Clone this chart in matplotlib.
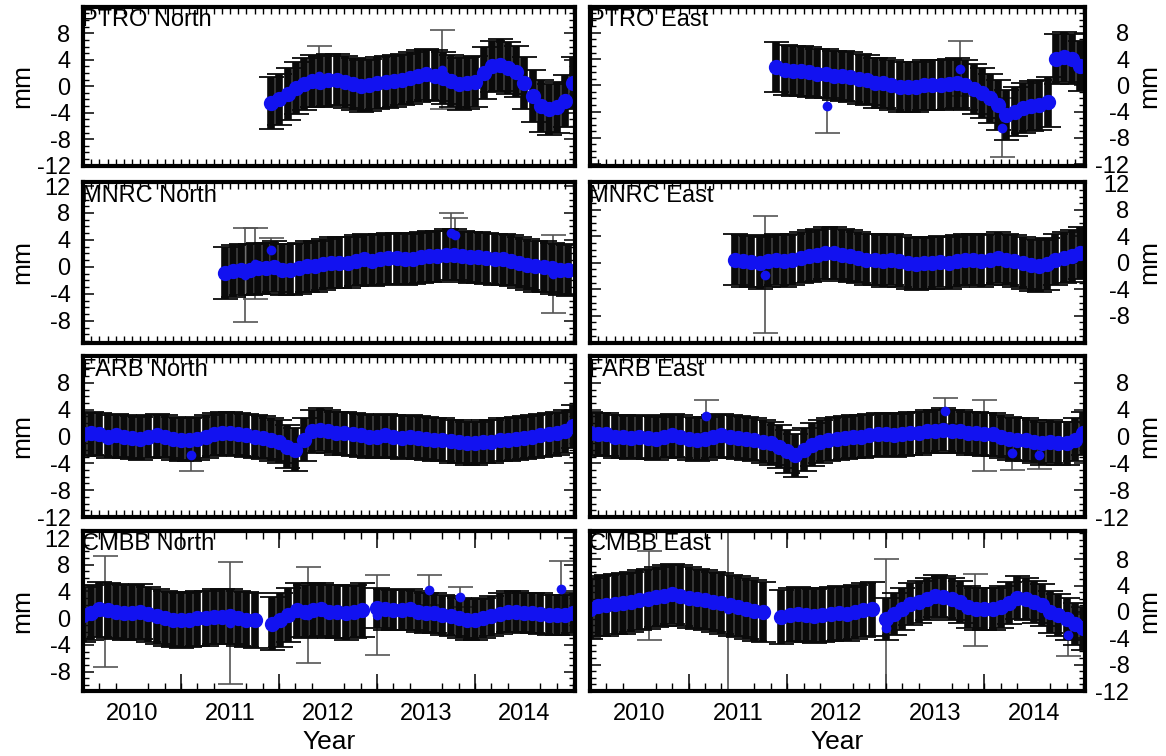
import numpy as np
import matplotlib
matplotlib.use('Agg')
import matplotlib.pyplot as plt
import matplotlib.transforms as mtransforms
from matplotlib.ticker import FixedLocator, MultipleLocator

plt.rcParams['font.family'] = ['Liberation Sans', 'DejaVu Sans']
plt.rcParams['axes.unicode_minus'] = False

# ---------------- data (monthly values, mm) ----------------
# PTRO North
ptro_n_start = 2011.42
ptro_n = [-2.5, -2.0, -1.2, -0.3, 0.3, 0.8, 0.7, 0.9, 1.0, 0.6, 0.3, 0.0, 0.2, 0.5,
          0.6, 0.8, 1.0, 1.2, 1.5, 1.8, 1.6, 1.2, 0.8, 0.3, 0.5, 0.7, 2.0, 3.0, 3.2,
          2.8, 2.2, 0.5, -1.5, -3.0, -3.5, -3.2, -2.2, 0.5]
ptro_n_sig = 3.9
ptro_n_out_x = [2011.91, 2013.16]
ptro_n_out_y = [1.5, 2.5]
ptro_n_out_e = [4.6, 6.0]

# PTRO East
ptro_e_start = 2011.39
ptro_e = [2.8, 2.4, 2.2, 2.2, 2.0, 1.8, 1.8, 1.5, 1.4, 1.3, 1.0, 0.8, 0.4, 0.3, 0.0,
          -0.2, -0.3, -0.2, 0.0, 0.0, 0.1, 0.2, 0.3, 0.0, -0.6, -1.2, -2.0, -3.0,
          -4.5, -4.0, -3.5, -3.2, -3.0, -2.6, 4.0, 4.3, 4.0, 3.0]
ptro_e_sig = 3.8
ptro_e_out_x = [2011.90, 2013.25, 2013.68]
ptro_e_out_y = [-3.2, 2.5, -6.5]
ptro_e_out_e = [4.0, 4.2, 4.5]

# MNRC North
mnrc_n_start = 2010.95
mnrc_n = [-0.9, -0.6, -0.4, -0.4, -0.2, -0.2, 0.0, -0.4, -0.4, -0.2, 0.1, 0.1, 0.4,
          0.6, 0.6, 0.6, 0.9, 1.1, 0.9, 1.1, 1.3, 1.3, 1.1, 1.2, 1.4, 1.6, 1.6, 1.8,
          1.8, 1.6, 1.4, 1.4, 1.3, 1.1, 1.1, 0.9, 0.6, 0.3, 0.1, 0.0, -0.2, -0.4, -0.5]
mnrc_n_sig = 3.8
mnrc_n_out_x = [2011.15, 2011.25, 2011.42, 2013.25, 2013.30, 2014.30]
mnrc_n_out_y = [-1.2, 0.5, 2.5, 5.0, 4.7, -1.0]
mnrc_n_out_e = [7.0, 5.3, 1.8, 3.0, 2.5, 5.8]

# MNRC East
mnrc_e_start = 2010.97
mnrc_e = [0.5, 0.3, 0.2, 0.0, 0.3, 0.5, 0.3, 0.5, 0.8, 1.0, 1.2, 1.5, 1.5, 1.2, 1.0,
          0.8, 0.5, 0.5, 0.3, 0.5, 0.3, 0.0, -0.2, 0.0, 0.0, 0.2, 0.0, 0.3, 0.5, 0.5,
          0.3, 0.5, 0.8, 0.5, 0.3, 0.0, -0.3, -0.5, -0.2, 0.5, 0.8, 1.0, 1.5]
mnrc_e_sig = 3.9
mnrc_e_out_x = [2011.27]
mnrc_e_out_y = [-1.8]
mnrc_e_out_e = [8.8]

# FARB North
farb_n_start = 2009.50
farb_n = [0.3, 0.5, 0.3, 0.0, 0.2, 0.0, -0.2, -0.3, 0.0, 0.2, 0.0, -0.3, -0.5, -0.5,
          -0.3, 0.0, 0.3, 0.5, 0.5, 0.3, 0.2, 0.0, -0.2, -0.5, -0.8, -1.5, -2.0, -0.5,
          0.8, 1.0, 0.8, 0.5, 0.5, 0.3, 0.2, 0.0, 0.0, 0.2, 0.0, -0.2, 0.0, -0.2, -0.3,
          -0.5, -0.5, -0.7, -0.8, -1.0, -1.0, -0.8, -0.8, -0.5, -0.5, -0.3, -0.2, 0.0,
          0.2, 0.3, 0.5, 0.8, 1.5]
farb_n_sig = 3.2
farb_n_out_x = [2010.60]
farb_n_out_y = [-2.8]
farb_n_out_e = [2.4]

# FARB East
farb_e_start = 2009.50
farb_e = [0.5, 0.3, 0.3, 0.0, 0.0, -0.2, 0.0, -0.2, -0.3, 0.0, 0.2, 0.0, -0.3, -0.5,
          -0.3, 0.0, 0.2, 0.0, -0.2, -0.3, -0.5, -0.8, -1.0, -1.5, -2.2, -2.8, -2.0,
          -1.2, -0.8, -0.5, -0.3, -0.2, 0.0, 0.0, 0.2, 0.3, 0.3, 0.2, 0.3, 0.5, 0.5,
          0.8, 0.8, 1.0, 0.8, 0.8, 0.5, 0.5, 0.3, 0.3, 0.0, -0.3, -0.5, -0.5, -0.8,
          -1.0, -0.8, -1.0, -1.0, -0.5, 0.5]
farb_e_sig = 3.2
farb_e_out_x = [2010.68, 2013.10, 2013.50, 2013.78, 2014.05]
farb_e_out_y = [3.0, 3.8, 0.2, -2.5, -2.8]
farb_e_out_e = [2.5, 2.0, 5.3, 2.5, 2.0]

# CMBB North (three segments separated by data gaps)
cmbb_n_starts = [2009.50, 2011.43, 2012.50]
cmbb_n_seg1 = [0.5, 0.8, 1.3, 1.2, 1.0, 0.8, 0.8, 1.0, 0.6, 0.3, 0.0, -0.2, -0.3,
               -0.2, 0.0, 0.0, 0.2, 0.2, 0.3, 0.0, -0.2, -0.3]
cmbb_n_seg2 = [-0.8, -0.3, 0.5, 1.2, 1.0, 1.2, 1.3, 1.0, 1.0, 0.8, 1.0, 1.2]
cmbb_n_seg3 = [1.5, 1.3, 1.2, 1.2, 1.3, 1.0, 0.8, 0.8, 0.5, 0.3, 0.0, -0.2, -0.2,
               0.0, 0.3, 0.7, 1.0, 1.0, 0.8, 0.8, 0.7, 0.5, 0.5, 0.5, 0.8]
cmbb_n_sigs = [4.1, 4.0, 3.0]
cmbb_n_out_x = [2009.72, 2011.00, 2011.80, 2012.50, 2013.03, 2013.35, 2014.38]
cmbb_n_out_y = [1.0, -0.7, 0.5, 0.5, 4.2, 3.1, 4.3]
cmbb_n_out_e = [8.3, 9.1, 7.2, 6.0, 2.2, 1.5, 4.2]

# CMBB East
cmbb_e_starts = [2009.50, 2011.44, 2012.50]
cmbb_e_seg1 = [0.5, 0.9, 1.0, 1.2, 1.3, 1.5, 1.8, 2.0, 2.3, 2.5, 2.7, 2.5, 2.2, 2.0,
               1.8, 1.5, 1.3, 1.0, 0.8, 0.5, 0.2, 0.0]
cmbb_e_seg2 = [-0.8, -0.5, -0.3, -0.5, -0.6, -0.5, -0.3, -0.2, -0.3, 0.0, 0.3, 0.5]
cmbb_e_seg3 = [-1.0, -0.3, 0.5, 1.2, 1.5, 2.0, 2.4, 2.3, 2.0, 1.5, 0.8, 0.5, 0.5,
               0.5, 0.8, 1.3, 2.2, 2.0, 1.5, 1.0, 0.0, -0.5, -1.0, -1.8, -2.5]
cmbb_e_sigs = [4.6, 4.1, 3.2]
cmbb_e_out_x = [2010.10, 2010.90, 2012.50, 2013.40, 2014.35]
cmbb_e_out_y = [2.5, 0.5, -2.5, 0.3, -3.5]
cmbb_e_out_e = [6.7, 30.0, 10.5, 5.5, 3.2]

titles = ['PTRO North', 'PTRO East', 'MNRC North', 'MNRC East',
          'FARB North', 'FARB East', 'CMBB North', 'CMBB East']
year_labels = [2010, 2011, 2012, 2013, 2014]

panels = [
    dict(segs=[(ptro_n_start, ptro_n, ptro_n_sig)], out=(ptro_n_out_x, ptro_n_out_y, ptro_n_out_e),
         ylim=(-12.05, 11.97), yt=[-12, -8, -4, 0, 4, 8]),
    dict(segs=[(ptro_e_start, ptro_e, ptro_e_sig)], out=(ptro_e_out_x, ptro_e_out_y, ptro_e_out_e),
         ylim=(-12.3, 11.95), yt=[-12, -8, -4, 0, 4, 8]),
    dict(segs=[(mnrc_n_start, mnrc_n, mnrc_n_sig)], out=(mnrc_n_out_x, mnrc_n_out_y, mnrc_n_out_e),
         ylim=(-11.3, 12.6), yt=[-8, -4, 0, 4, 8, 12]),
    dict(segs=[(mnrc_e_start, mnrc_e, mnrc_e_sig)], out=(mnrc_e_out_x, mnrc_e_out_y, mnrc_e_out_e),
         ylim=(-12.1, 12.2), yt=[-8, -4, 0, 4, 8, 12]),
    dict(segs=[(farb_n_start, farb_n, farb_n_sig)], out=(farb_n_out_x, farb_n_out_y, farb_n_out_e),
         ylim=(-12.0, 12.0), yt=[-12, -8, -4, 0, 4, 8]),
    dict(segs=[(farb_e_start, farb_e, farb_e_sig)], out=(farb_e_out_x, farb_e_out_y, farb_e_out_e),
         ylim=(-12.0, 12.0), yt=[-12, -8, -4, 0, 4, 8]),
    dict(segs=list(zip(cmbb_n_starts, [cmbb_n_seg1, cmbb_n_seg2, cmbb_n_seg3], cmbb_n_sigs)),
         out=(cmbb_n_out_x, cmbb_n_out_y, cmbb_n_out_e),
         ylim=(-10.9, 13.05), yt=[-8, -4, 0, 4, 8, 12]),
    dict(segs=list(zip(cmbb_e_starts, [cmbb_e_seg1, cmbb_e_seg2, cmbb_e_seg3], cmbb_e_sigs)),
         out=(cmbb_e_out_x, cmbb_e_out_y, cmbb_e_out_e),
         ylim=(-12.0, 12.3), yt=[-12, -8, -4, 0, 4, 8]),
]

# ---------------- layout ----------------
W, H = 1166, 756
fig = plt.figure(figsize=(W / 100, H / 100), dpi=100)
col_px = [(83, 575), (590, 1085)]
row_px = [(7, 166), (182, 343), (356, 517), (531, 691)]

BLUE = '#1212f0'
XMIN, XMAX = 2009.5, 2014.52

for i, p in enumerate(panels):
    r, c = divmod(i, 2)
    x0, x1 = col_px[c]
    t, b = row_px[r]
    ax = fig.add_axes([x0 / W, 1 - b / H, (x1 - x0) / W, (b - t) / H])

    ox, oy, oe = p['out']
    ax.errorbar(ox, oy, yerr=oe, fmt='none', ecolor='#555555', elinewidth=1.2,
                capsize=9, capthick=1.2, zorder=1)
    for start, vals, sig in p['segs']:
        vals = np.asarray(vals)
        xs = start + np.arange(len(vals)) / 12.0
        ax.errorbar(xs, vals, yerr=sig, fmt='none', ecolor='#0a0a0a', elinewidth=5.5,
                    capsize=9, capthick=1.3, zorder=2)
        ax.plot(xs, vals, 'o', color=BLUE, ms=11, mew=0, zorder=3)
    ax.plot(ox, oy, 'o', color=BLUE, ms=7, mew=0, zorder=4)

    ax.set_xlim(XMIN, XMAX)
    ax.set_ylim(*p['ylim'])
    for sp in ax.spines.values():
        sp.set_linewidth(3)
        sp.set_zorder(5)

    # y ticks
    ax.yaxis.set_major_locator(FixedLocator(p['yt']))
    ax.yaxis.set_minor_locator(MultipleLocator(1))
    ax.tick_params(axis='y', which='both', direction='in', left=True, right=True)
    ax.tick_params(axis='y', which='major', length=8, width=1.1, labelsize=17)
    ax.tick_params(axis='y', which='minor', length=4, width=1.0)
    if c == 0:
        ax.tick_params(axis='y', labelleft=True, labelright=False, pad=9)
        fig.text(22 / W, 1 - (t + b) / 2 / H, 'mm', rotation=90, ha='center',
                 va='center', fontsize=19)
    else:
        ax.tick_params(axis='y', labelleft=False, labelright=True, pad=32)
        for lab in ax.get_yticklabels():
            lab.set_horizontalalignment('right')
        fig.text(1149 / W, 1 - (t + b) / 2 / H, 'mm', rotation=90, ha='center',
                 va='center', fontsize=19)

    # x ticks
    if r < 3:
        ax.xaxis.set_major_locator(FixedLocator(np.arange(XMIN, XMAX, 1 / 12.0)))
        ax.xaxis.set_minor_locator(FixedLocator([]))
        ax.tick_params(axis='x', which='major', direction='in', top=True, bottom=True,
                       length=5, width=1.0, labelbottom=False)
    else:
        ax.xaxis.set_major_locator(FixedLocator(year_labels))
        ax.xaxis.set_minor_locator(FixedLocator(np.arange(XMIN, XMAX, 1 / 6.0)))
        ax.tick_params(axis='x', which='major', length=0, pad=9, labelsize=17)
        ax.tick_params(axis='x', which='minor', direction='in', top=True, bottom=True,
                       length=6, width=1.0)
        for loc in ('bottom', 'top'):
            sec = ax.secondary_xaxis(loc)
            sec.set_xticks([2010.5, 2011.5, 2012.5, 2013.5])
            sec.tick_params(direction='in', length=12, width=1.1,
                            labelbottom=False, labeltop=False)
            sec.spines[loc].set_visible(False)
        ax.set_xlabel('Year', fontsize=19, labelpad=3)

    offset = mtransforms.offset_copy(ax.transAxes, fig=fig, x=-1.0, y=-1.8, units='points')
    ax.text(0.0, 1.0, titles[i], transform=offset, ha='left', va='top', fontsize=17,
            zorder=6)

fig.savefig('out.png', dpi=100)
